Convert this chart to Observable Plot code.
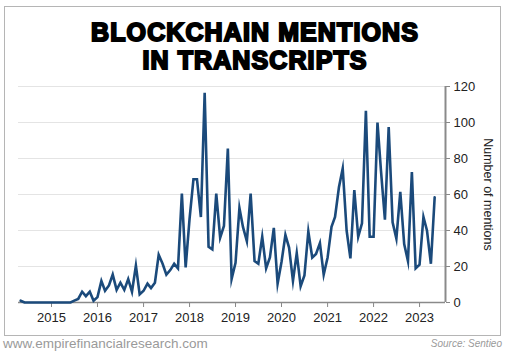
<!DOCTYPE html>
<html>
<head>
<meta charset="utf-8">
<script src="https://cdn.jsdelivr.net/npm/d3@7"></script>
<script src="https://cdn.jsdelivr.net/npm/@observablehq/plot@0.6"></script>
<style>
  html, body { margin: 0; padding: 0; background: #fff; }
  #wrap { position: relative; width: 510px; height: 355px; overflow: hidden; background: #fff; font-family: "Liberation Sans", Arial, sans-serif; }
  #frame { position: absolute; left: 4px; top: 6px; width: 495px; height: 328px; border: 1.5px solid #b5b5b5; }
  #title { position: absolute; left: 0; top: 17.6px; width: 510px; text-align: center; font-size: 25px; line-height: 28px; font-weight: 900; color: #000; -webkit-text-stroke: 2px #000; letter-spacing: 1.1px; white-space: nowrap; }
  #chart { position: absolute; left: 0; top: 76px; }
  #url { position: absolute; left: 3px; top: 336px; font-size: 13.5px; color: #9a9a9a; }
  #src { position: absolute; right: 8px; top: 338px; font-size: 10px; font-style: italic; color: #9a9a9a; }
</style>
</head>
<body>
<div id="wrap">
  <div id="frame"></div>
  <div id="title">BLOCKCHAIN MENTIONS<br>IN TRANSCRIPTS</div>
  <div id="chart"></div>
  <div id="url">www.empirefinancialresearch.com</div>
  <div id="src">Source: Sentieo</div>
</div>
<script>
// Monthly mentions, May 2014 .. May 2023
const startYear = 2014, startMonth = 4; // May (0-based)
const v2014 = [1, 0, 0, 0, 0, 0, 0, 0];
const v2015 = [0, 0, 0, 0, 0, 0, 1, 2, 6, 3.5, 6, 1];
const v2016 = [3, 12, 6.5, 9.5, 15.5, 7, 11, 7, 13, 6, 20.5, 4.5];
const v2017 = [6.5, 10.5, 8, 11, 26.5, 21.5, 15.5, 18, 21.5, 19, 60.5, 19.5];
const v2018 = [46.5, 68.5, 68.5, 47.5, 116.5, 31, 29.5, 60.5, 36, 42.5, 85.5, 13];
const v2019 = [22, 52.5, 42, 34, 60.5, 23, 21.5, 36.5, 19, 25, 41.5, 10.5];
const v2020 = [22.5, 37.5, 30.5, 12, 27.5, 9, 15, 39.5, 25, 27, 33, 15.5];
const v2021 = [25, 42, 47.5, 64, 74.5, 40, 24.5, 62.5, 36.5, 44, 106.5, 36.5];
const v2022 = [36.5, 100, 73, 46, 97.5, 44.5, 35.5, 61.5, 32.5, 23, 72.5, 19];
const v2023 = [21, 47.5, 40, 21.5, 58.5];
const yearTickLabels = [2015, 2016, 2017, 2018, 2019, 2020, 2021, 2022, 2023];
const yTickValues = [0, 20, 40, 60, 80, 100, 120];
const yLabel = "Number of mentions";

const values = [...v2014, ...v2015, ...v2016, ...v2017, ...v2018, ...v2019, ...v2020, ...v2021, ...v2022, ...v2023];
const data = values.map((v, i) => ({ date: new Date(Date.UTC(startYear, startMonth + i, 1)), value: v }));
const yearTicks = yearTickLabels.map(y => new Date(Date.UTC(y, 0, 1)));

const xStart = new Date(Date.UTC(2014, 3, 14));
const xEnd = new Date(Date.UTC(2023, 6, 26));

const chart = Plot.plot({
  width: 510,
  height: 256,
  marginLeft: 18,
  marginRight: 65,
  marginTop: 10,
  marginBottom: 30,
  style: { fontFamily: "Liberation Sans, Arial, sans-serif", fontSize: "13px", color: "#222", background: "transparent", overflow: "visible" },
  x: { type: "utc", domain: [xStart, xEnd] },
  y: { domain: [0, 120] },
  marks: [
    Plot.gridY(yTickValues.filter(d => d > 0), { stroke: "#e4e4e4", strokeOpacity: 1, strokeWidth: 1 }),
    Plot.axisX(yearTicks, { tickFormat: d3.utcFormat("%Y"), tickSize: 5, tickPadding: 5, stroke: "#888", label: null, fill: "#222" }),
    Plot.axisY(yTickValues, { anchor: "right", tickSize: 4, tickPadding: 4, stroke: "#888", label: null, fill: "#222" }),
    Plot.ruleY([0], { stroke: "#8a8a8a", strokeWidth: 1.5 }),
    Plot.ruleX([xEnd], { stroke: "#8a8a8a", strokeWidth: 2 }),
    Plot.line(data, { x: "date", y: "value", stroke: "#1b4a7b", strokeWidth: 2.6, strokeLinejoin: "miter", strokeMiterlimit: 10 }),
    Plot.text([yLabel], { frameAnchor: "right", dx: 42, rotate: 90, textAnchor: "middle", lineAnchor: "middle", fontSize: 12.5, fill: "#222" })
  ]
});
document.getElementById("chart").appendChild(chart);
</script>
</body>
</html>
